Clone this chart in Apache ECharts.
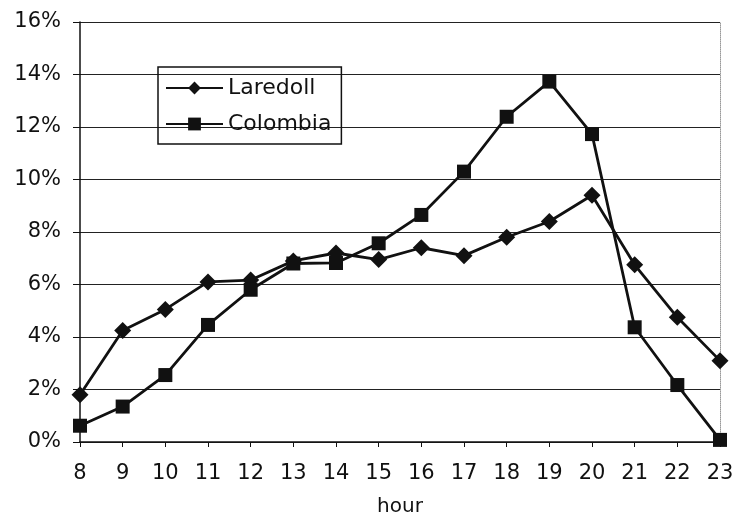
<!DOCTYPE html>
<html><head><meta charset="utf-8">
<script src="https://cdn.jsdelivr.net/npm/echarts@6/dist/echarts.min.js"></script>
<style>html,body{margin:0;padding:0;background:#fff}#c{width:734px;height:521px}</style>
</head><body><div id="c"></div>
<script>
const hours = ['8','9','10','11','12','13','14','15','16','17','18','19','20','21','22','23'];
const laredoll = [1.8, 4.25, 5.05, 6.1, 6.17, 6.9, 7.2, 6.95, 7.4, 7.1, 7.8, 8.4, 9.4, 6.75, 4.75, 3.1];
const colombia = [0.62, 1.35, 2.55, 4.46, 5.8, 6.8, 6.82, 7.57, 8.65, 10.3, 12.39, 13.73, 11.73, 4.37, 2.17, 0.08];
const yTicks = [0, 2, 4, 6, 8, 10, 12, 14, 16];

const chart = echarts.init(document.getElementById('c'));
const font = 'DejaVu Sans, sans-serif';
chart.setOption({
  backgroundColor: '#fff',
  animation: false,
  grid: {left: 80, right: 14, top: 22, bottom: 79, containLabel: false, outerBoundsMode: 'none'},
  legend: {
    orient: 'vertical', left: 158, top: 67,
    padding: [10, 10, 9, 7], itemGap: 14,
    borderColor: '#111', borderWidth: 1.5,
    itemWidth: 57, itemHeight: 16,
    textStyle: {fontFamily: font, fontSize: 22, color: '#111'},
    data: ['Laredoll', 'Colombia']
  },
  xAxis: {
    type: 'category', data: hours, boundaryGap: false,
    name: 'hour', nameLocation: 'middle', nameGap: 55,
    nameTextStyle: {fontFamily: font, fontSize: 20, color: '#111'},
    axisLine: {lineStyle: {color: '#111', width: 1.5}},
    axisTick: {show: true, length: 5, inside: false, lineStyle: {color: '#111'}, alignWithLabel: true},
    axisLabel: {fontFamily: font, fontSize: 21, color: '#111', margin: 21}
  },
  yAxis: [{
    type: 'value', min: 0, max: 16, interval: 2,
    axisLine: {show: true, lineStyle: {color: '#111', width: 1.5}},
    axisTick: {show: true, length: 7, lineStyle: {color: '#111'}},
    axisLabel: {fontFamily: font, fontSize: 21, color: '#111', margin: 19,
      formatter: v => yTicks.includes(v) ? v + '%' : ''},
    splitLine: {show: true, lineStyle: {color: '#222', width: 1.2}}
  }, {
    type: 'value', min: 0, max: 16, interval: 2, position: 'right',
    axisLine: {show: true, lineStyle: {color: '#999', width: 1, type: 'dotted'}},
    axisTick: {show: false}, axisLabel: {show: false}, splitLine: {show: false}
  }],
  series: [{
    name: 'Laredoll', type: 'line', data: laredoll,
    symbol: 'diamond', symbolSize: 17,
    lineStyle: {color: '#111', width: 2.8},
    itemStyle: {color: '#111'}
  }, {
    name: 'Colombia', type: 'line', data: colombia,
    symbol: 'rect', symbolSize: 14,
    lineStyle: {color: '#111', width: 2.8},
    itemStyle: {color: '#111'}
  }]
});
</script></body></html>
